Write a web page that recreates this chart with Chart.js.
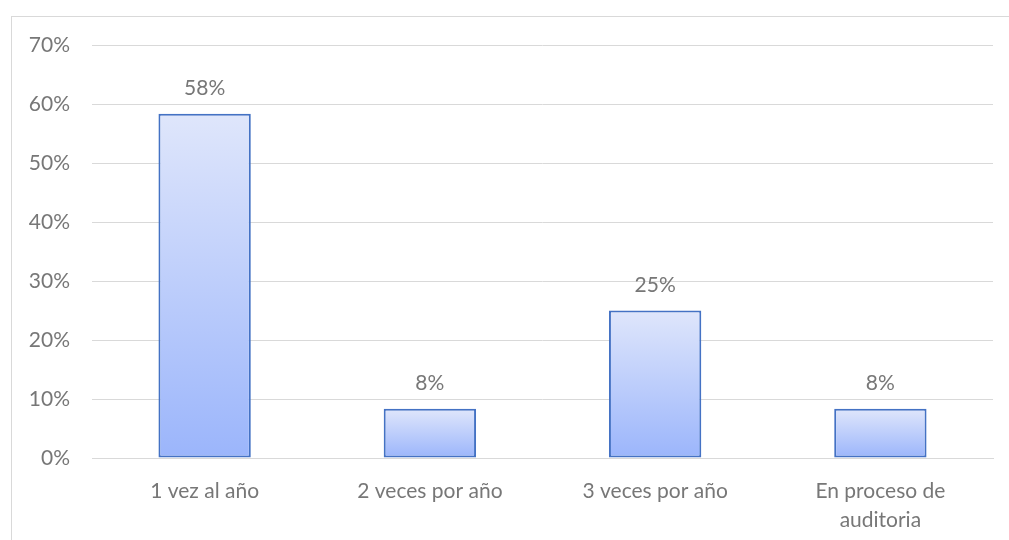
<!DOCTYPE html>
<html>
<head>
<meta charset="utf-8">
<script src="https://cdn.jsdelivr.net/npm/chart.js@4"></script>
<style>
  body { margin: 0; background: #fff; overflow: hidden; }
  #marco { position: absolute; left: 11px; top: 16px; width: 1100px; height: 600px; border: 1px solid #d9d9d9; }
  #caja { position: absolute; left: 0; top: 0; width: 1009px; height: 540px; }
</style>
</head>
<body>
<div id="marco"></div>
<div id="caja"><canvas id="grafico" width="1009" height="540"></canvas></div>
<script>
// Datos
const categorias = ['1 vez al año', '2 veces por año', '3 veces por año', ['En proceso de', 'auditoria']];
const porcentajes = [58.33, 8.33, 25, 8.33];
const etiquetas = ['58%', '8%', '25%', '8%'];

const gris = '#777777';
const fuente = { family: 'Lato', size: 21, lineHeight: 1.38 };

// degradado de cada barra: claro arriba, más azul abajo
function rellenoBarra(ctx) {
    const chart = ctx.chart;
    if (!chart.chartArea) return '#c5d3fb';
    const y = chart.scales.y;
    const arriba = y.getPixelForValue(porcentajes[ctx.dataIndex]);
    const abajo = y.getPixelForValue(0);
    const g = chart.ctx.createLinearGradient(0, arriba, 0, abajo);
    g.addColorStop(0, '#dfe6fb');
    g.addColorStop(1, '#9bb5fb');
    return g;
}

// etiquetas encima de las barras
const etiquetasPlugin = {
    id: 'etiquetas',
    afterDatasetsDraw(chart) {
        const ctx = chart.ctx;
        const meta = chart.getDatasetMeta(0);
        ctx.save();
        ctx.fillStyle = gris;
        ctx.font = '21px Lato';
        ctx.textAlign = 'center';
        ctx.textBaseline = 'bottom';
        meta.data.forEach((barra, i) => {
            ctx.fillText(etiquetas[i], barra.x, barra.y - 15);
        });
        ctx.restore();
    }
};

new Chart(document.getElementById('grafico'), {
    type: 'bar',
    data: {
        labels: categorias,
        datasets: [{
            data: porcentajes,
            backgroundColor: rellenoBarra,
            borderColor: '#4472c4',
            borderWidth: 2,
            borderSkipped: false,
            barPercentage: 0.41,
            categoryPercentage: 1
        }]
    },
    options: {
        responsive: false,
        animation: false,
        devicePixelRatio: 1,
        layout: { padding: { left: 0, top: 45, right: 16, bottom: 0 } },
        plugins: { legend: { display: false }, tooltip: { enabled: false } },
        scales: {
            x: {
                grid: { display: false },
                border: { color: '#d9d9d9', width: 1 },
                ticks: { color: gris, font: fuente, padding: 11, maxRotation: 0, autoSkip: false },
                afterFit: (s) => { s.height = 82; }
            },
            y: {
                min: 0,
                max: 70,
                grid: { color: '#d9d9d9', lineWidth: 1, drawTicks: false },
                border: { display: false },
                ticks: { stepSize: 10, color: gris, font: fuente, padding: 22, callback: v => v + '%' },
                afterFit: (s) => { s.width = 92; }
            }
        }
    },
    plugins: [etiquetasPlugin]
});
</script>
</body>
</html>
